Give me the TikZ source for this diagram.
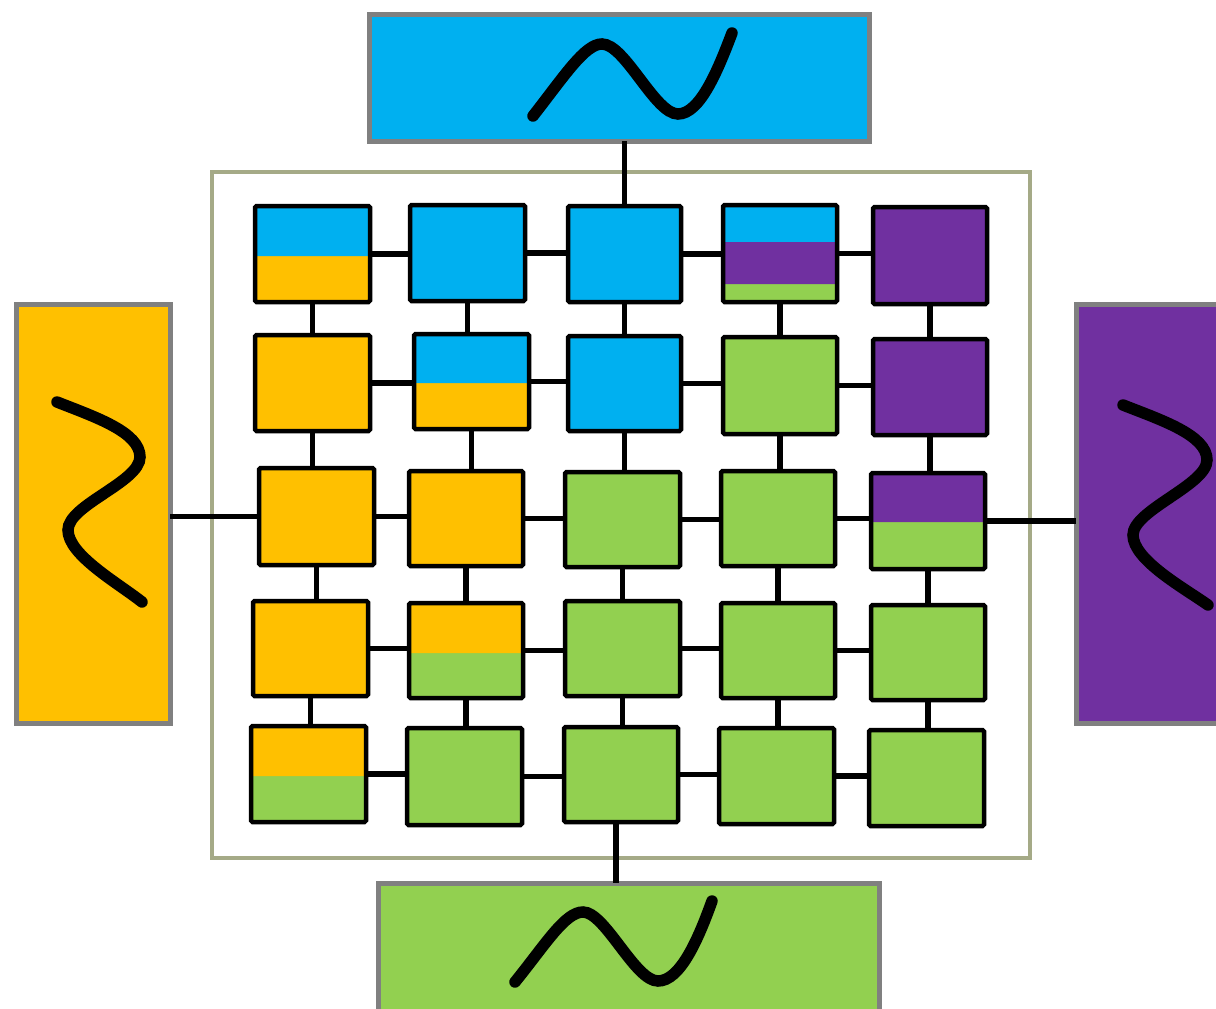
\documentclass[tikz,border=0pt]{standalone}
\usetikzlibrary{fit}
\definecolor{cblue}{RGB}{0,176,240}
\definecolor{cyellow}{RGB}{255,192,0}
\definecolor{cgreen}{RGB}{146,208,80}
\definecolor{cpurple}{RGB}{112,48,160}
\definecolor{srcgray}{RGB}{128,128,128}
\definecolor{framecol}{RGB}{165,170,135}
\tikzset{
  cell/.style={draw=black, line width=4.5pt, rounded corners=1.5pt, inner sep=0pt, outer sep=0pt},
  src/.style={draw=srcgray, line width=5pt, inner sep=0pt, outer sep=0pt},
  link/.style={draw=black, line width=5.5pt},
  wave/.style={draw=black, line width=11.5pt, line cap=round},
  topband/.style n args={2}{path picture={\fill[#1] (path picture bounding box.north west) rectangle ([yshift=-#2]path picture bounding box.north east);}},
}
\begin{document}
\begin{tikzpicture}[x=1pt,y=-1pt]
\useasboundingbox (0,0) rectangle (1216,1009);

% outer frame of the mesh
\node[draw=framecol, line width=3.5pt, inner sep=0pt, fit={(212,172) (1030,858)}] (frame) {};

% four source blocks
\node[src, fill=cblue,   fit={(369,14) (869,141)}]  (top) {};
\node[src, fill=cgreen,  fit={(378,883) (879,1030)}] (bottom) {};
\node[src, fill=cyellow, fit={(16,304) (170,723)}]  (left) {};
\node[src, fill=cpurple, fit={(1076,304) (1240,723)}] (right) {};

% waves inside the source blocks
\draw[wave] (533,116) .. controls (565,75) and (585,44) .. (602,44)
  .. controls (625,44) and (655,114) .. (678,114)
  .. controls (700,114) and (718,70) .. (732,33);
\draw[wave] (515,982) .. controls (545,945) and (565,912) .. (583,912)
  .. controls (605,912) and (635,981) .. (658,981)
  .. controls (680,981) and (698,940) .. (712,901);
\draw[wave] (57,402) .. controls (95,417) and (140,432) .. (140,457)
  .. controls (140,482) and (68,505) .. (68,530)
  .. controls (68,555) and (118,583) .. (142,602);
\draw[wave] (1123,405) .. controls (1161,420) and (1207,435) .. (1207,460)
  .. controls (1207,485) and (1133,510) .. (1133,535)
  .. controls (1133,560) and (1184,588) .. (1208,605);

% mesh cells, row 1
\node[cell, fill=cyellow, topband={cblue}{50pt}, fit={(255,206) (370,302)}] (c11) {};
\node[cell, fill=cblue,   fit={(410,205) (525,301)}] (c12) {};
\node[cell, fill=cblue,   fit={(568,206) (681,302)}] (c13) {};
\node[cell, fill=cgreen, path picture={
    \fill[cblue] (path picture bounding box.north west) rectangle ([yshift=-37pt]path picture bounding box.north east);
    \fill[cpurple] ([yshift=-37pt]path picture bounding box.north west) rectangle ([yshift=-79pt]path picture bounding box.north east);},
  fit={(723,205) (837,302)}] (c14) {};
\node[cell, fill=cpurple, fit={(873,207) (987,304)}] (c15) {};
% row 2
\node[cell, fill=cyellow, fit={(255,335) (370,431)}] (c21) {};
\node[cell, fill=cyellow, topband={cblue}{49pt}, fit={(414,334) (529,429)}] (c22) {};
\node[cell, fill=cblue,   fit={(568,336) (681,431)}] (c23) {};
\node[cell, fill=cgreen,  fit={(723,337) (837,434)}] (c24) {};
\node[cell, fill=cpurple, fit={(873,339) (987,435)}] (c25) {};
% row 3
\node[cell, fill=cyellow, fit={(259,468) (374,565)}] (c31) {};
\node[cell, fill=cyellow, fit={(409,471) (523,566)}] (c32) {};
\node[cell, fill=cgreen,  fit={(565,472) (680,567)}] (c33) {};
\node[cell, fill=cgreen,  fit={(721,471) (835,566)}] (c34) {};
\node[cell, fill=cgreen, topband={cpurple}{49pt}, fit={(871,473) (985,569)}] (c35) {};
% row 4
\node[cell, fill=cyellow, fit={(253,601) (368,696)}] (c41) {};
\node[cell, fill=cgreen, topband={cyellow}{50pt}, fit={(409,603) (523,698)}] (c42) {};
\node[cell, fill=cgreen,  fit={(565,601) (680,696)}] (c43) {};
\node[cell, fill=cgreen,  fit={(721,603) (835,698)}] (c44) {};
\node[cell, fill=cgreen,  fit={(871,605) (985,700)}] (c45) {};
% row 5
\node[cell, fill=cgreen, topband={cyellow}{50pt}, fit={(251,726) (366,822)}] (c51) {};
\node[cell, fill=cgreen,  fit={(407,728) (522,825)}] (c52) {};
\node[cell, fill=cgreen,  fit={(564,727) (678,822)}] (c53) {};
\node[cell, fill=cgreen,  fit={(719,728) (834,824)}] (c54) {};
\node[cell, fill=cgreen,  fit={(869,730) (984,826)}] (c55) {};

% horizontal links
\foreach \r in {1,...,5}{
  \foreach \a/\b in {1/2,2/3,3/4,4/5}{
    \draw[link] (c\r\a.east) -- (c\r\a.east -| c\r\b.west);
  }
}
% vertical links
\foreach \c in {1,...,5}{
  \foreach \a/\b in {1/2,2/3,3/4,4/5}{
    \draw[link] (c\a\c.south) -- (c\a\c.south |- c\b\c.north);
  }
}

% links to the source blocks
\draw[link] (c13.north) -- (c13.north |- top.south);
\draw[link] (left.east |- c31.west) -- (c31.west);
\draw[link] (c35.east) -- (c35.east -| right.west);
\coordinate (bl) at ([xshift=-5pt]c53.south);
\draw[link] (bl) -- (bl |- bottom.north);
\end{tikzpicture}
\end{document}
